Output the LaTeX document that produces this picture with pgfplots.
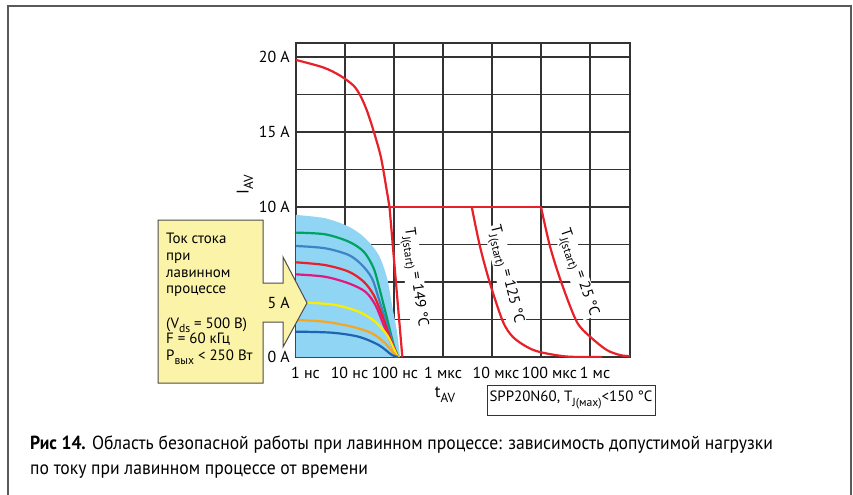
\documentclass[border=0pt]{standalone}
\usepackage{graphicx}
\usepackage{pgfplots}
\pgfplotsset{compat=1.18}
\usepackage{fontspec}
\setmainfont{PT Sans}
\newfontfamily\capfont[FakeStretch=0.93]{PT Sans}
\newcommand\sub[1]{\raisebox{-0.55ex}{\scalebox{0.78}{#1}}}
\definecolor{cred}{HTML}{E8202A}
\definecolor{csky}{HTML}{90D5F3}
\definecolor{cgreen}{HTML}{00A262}
\definecolor{cblue}{HTML}{3C84C6}
\definecolor{cmag}{HTML}{E2187F}
\definecolor{cyel}{HTML}{FFED00}
\definecolor{corange}{HTML}{F5A623}
\definecolor{cdblue}{HTML}{1E64B0}
\definecolor{cbox}{HTML}{FBF3A7}
\definecolor{cgrid}{HTML}{333333}
\begin{document}
\begin{tikzpicture}
\useasboundingbox (0,0) rectangle (853bp,-495bp);
\fill[white] (0,0) rectangle (853bp,-495bp);
\draw[line width=1.3bp, color=black!65] (8bp,-495bp) -- (8bp,-6bp) -- (851bp,-6bp) -- (851bp,-495bp);
\begin{axis}[
  at={(296bp,-357bp)}, anchor=south west, scale only axis,
  width=334bp, height=314bp,
  xmode=log, xmin=1e-9, xmax=6.55e-3, ymin=0, ymax=20.93,
  xtick={1e-9,1e-8,1e-7,1e-6,1e-5,1e-4,1e-3},
  xticklabels={\hspace*{19bp}1 нс,\hspace*{9bp}10 нс,\hspace*{2bp}100 нс,1 мкс,\hspace*{8bp}10 мкс,\hspace*{17bp}100 мкс,\hspace*{10bp}1 мс},
  xminorticks=false, xminorgrids=false,
  ytick={0,2.5,5,7.5,10,12.5,15,17.5,20},
  yticklabels={0 A,,,,10 A,,15 A,,20 A},
  xmajorgrids=true, ymajorgrids=true,
  major grid style={cgrid, line width=1.3bp},
  major tick length=0pt,
  axis line style={cgrid, line width=1.3bp},
  tick label style={font=\fontsize{16}{18}\selectfont},
  yticklabel style={inner sep=0pt, xshift=-6bp},
  xticklabel style={inner sep=0pt, yshift=-10bp},
]
% safe operating area (blue)
\addplot[fill=csky, draw=none, smooth] coordinates {(1e-9,9.47)(3.9e-9,9.25)(1.19e-8,8.69)(2.56e-8,7.93)(4.87e-8,6.8)(7.2e-8,5.27)(9.1e-8,3.47)(1.15e-7,1.67)(1.33e-7,0)} \closedcycle;
\addplot[cgreen, line width=2.2bp, smooth] coordinates {(1e-9,8.29)(3.9e-9,8.18)(1.19e-8,7.69)(2.41e-8,7.02)(3.85e-8,5.91)(5.25e-8,4.35)(7.2e-8,2.58)(9.86e-8,0.8)(1.21e-7,0)};
\addplot[cblue, line width=2.2bp, smooth] coordinates {(1e-9,7.4)(3.9e-9,7.25)(1.19e-8,6.8)(2.22e-8,6.13)(3.56e-8,5.24)(4.87e-8,3.91)(7.2e-8,2.13)(1.06e-7,0.35)(1.21e-7,0)};
\addplot[cred, line width=2.2bp, smooth] coordinates {(1e-9,6.31)(3.9e-9,6.13)(1.19e-8,5.69)(2.41e-8,5.02)(3.85e-8,4.13)(5.69e-8,2.8)(8.41e-8,1.24)(1.21e-7,0)};
\addplot[cmag, line width=2.2bp, smooth] coordinates {(1e-9,5.51)(3.9e-9,5.35)(1.19e-8,4.91)(2.6e-8,4.35)(4.16e-8,3.47)(6.15e-8,2.13)(9.1e-8,0.8)(1.21e-7,0)};
\addplot[cyel, line width=2.2bp, smooth] coordinates {(1e-9,3.62)(1.82e-9,3.62)(6.34e-9,3.47)(1.9e-8,3.02)(4.16e-8,2.35)(7.2e-8,1.47)(1.06e-7,0.35)(1.21e-7,0)};
\addplot[corange, line width=2.2bp, smooth] coordinates {(1e-9,2.47)(3.9e-9,2.35)(1.39e-8,2.02)(3.56e-8,1.58)(6.64e-8,0.91)(1.06e-7,0.13)(1.21e-7,0)};
\addplot[cdblue, line width=2.2bp, smooth] coordinates {(1e-9,1.69)(5.43e-9,1.62)(1.9e-8,1.35)(4.87e-8,0.8)(9.1e-8,0.13)(1.21e-7,0)};
% labels
\node[rotate=-82, fill=white, inner sep=1bp, font=\fontsize{15}{17}\selectfont] at (axis cs:2.56e-7,5.3) {T\sub{J(start)} = 149 °C};
\node[rotate=-76, fill=white, inner sep=1bp, font=\fontsize{15}{17}\selectfont] at (axis cs:1.84e-5,5.47) {T\sub{J(start)} = 125 °C};
\node[rotate=-71, fill=white, inner sep=1bp, font=\fontsize{15}{17}\selectfont] at (axis cs:5.56e-4,5.6) {T\sub{J(start)} = 25 °C};
% red limit curves
\addplot[cred, line width=2.2bp, smooth] coordinates {(1e-9,19.8)(3.61e-9,19.3)(8e-9,18.75)(1.48e-8,18.1)(2.02e-8,17.47)(2.77e-8,16.47)(3.78e-8,15.13)(5.18e-8,13.58)(6.05e-8,12.47)(8.1e-8,10)};
\addplot[cred, line width=2.2bp] coordinates {(8.1e-8,10)(1.48e-7,0)};
\addplot[cred, line width=2.2bp] coordinates {(8.1e-8,10)(1e-4,10)};
\addplot[cred, line width=2.2bp, smooth] coordinates {(3.86e-6,10)(5.69e-6,7.36)(9.1e-6,4.91)(1.67e-5,2.36)(2.68e-5,1.33)(5.18e-5,0.67)(9.55e-5,0.33)(3.39e-4,0.03)(1.76e-3,0)};
\addplot[cred, line width=2.2bp, smooth] coordinates {(1e-4,10)(1.53e-4,7.36)(2.64e-4,4.91)(5.35e-4,2.36)(1e-3,1.36)(2.19e-3,0.47)(4.09e-3,0.13)(6.55e-3,0.05)};
\end{axis}
% description box with arrow
\draw[fill=cbox, draw=black!70, line width=1bp] (158bp,-220bp) -- (263bp,-220bp) -- (263bp,-283bp) -- (283bp,-283bp) -- (283bp,-257bp) -- (307bp,-303bp) -- (283bp,-347bp) -- (283bp,-322bp) -- (263bp,-322bp) -- (263bp,-383bp) -- (158bp,-383bp) -- cycle;
\node[anchor=east, inner sep=0pt, font=\fontsize{16}{18}\selectfont] at (290bp,-303bp) {5 A};
\begin{scope}[every node/.style={anchor=base west, inner sep=0pt, font=\fontsize{15}{17}\selectfont}]
\node at (166bp,-243bp) {Ток стока};
\node at (166bp,-260bp) {при};
\node at (166bp,-277bp) {лавинном};
\node at (166bp,-293bp) {процессе};
\node at (166bp,-328bp) {(V\sub{ds} = 500 В)};
\node at (166bp,-343bp) {F = 60 кГц};
\node at (166bp,-360bp) {P\sub{вых} < 250 Вт};
\end{scope}
% axis titles
\node[rotate=90, font=\fontsize{17}{19}\selectfont] at (245bp,-185bp) {I\sub{AV}};
\node[font=\fontsize{17}{19}\selectfont] at (445bp,-395bp) {t\sub{AV}};
\node[draw=black!80, line width=1bp, minimum width=168bp, minimum height=30bp, inner sep=0pt, font=\fontsize{15}{17}\selectfont] at (571bp,-400bp) {SPP20N60, T\sub{J(мах)}<150 °C};
% caption
\node[anchor=base west, inner sep=0pt, font=\capfont\fontsize{19}{21}\selectfont] at (30bp,-449bp) {\textbf{Рис 14.} Область безопасной работы при лавинном процессе: зависимость допустимой нагрузки};
\node[anchor=base west, inner sep=0pt, font=\capfont\fontsize{19}{21}\selectfont] at (30bp,-474bp) {по току при лавинном процессе от времени};
\end{tikzpicture}
\end{document}
